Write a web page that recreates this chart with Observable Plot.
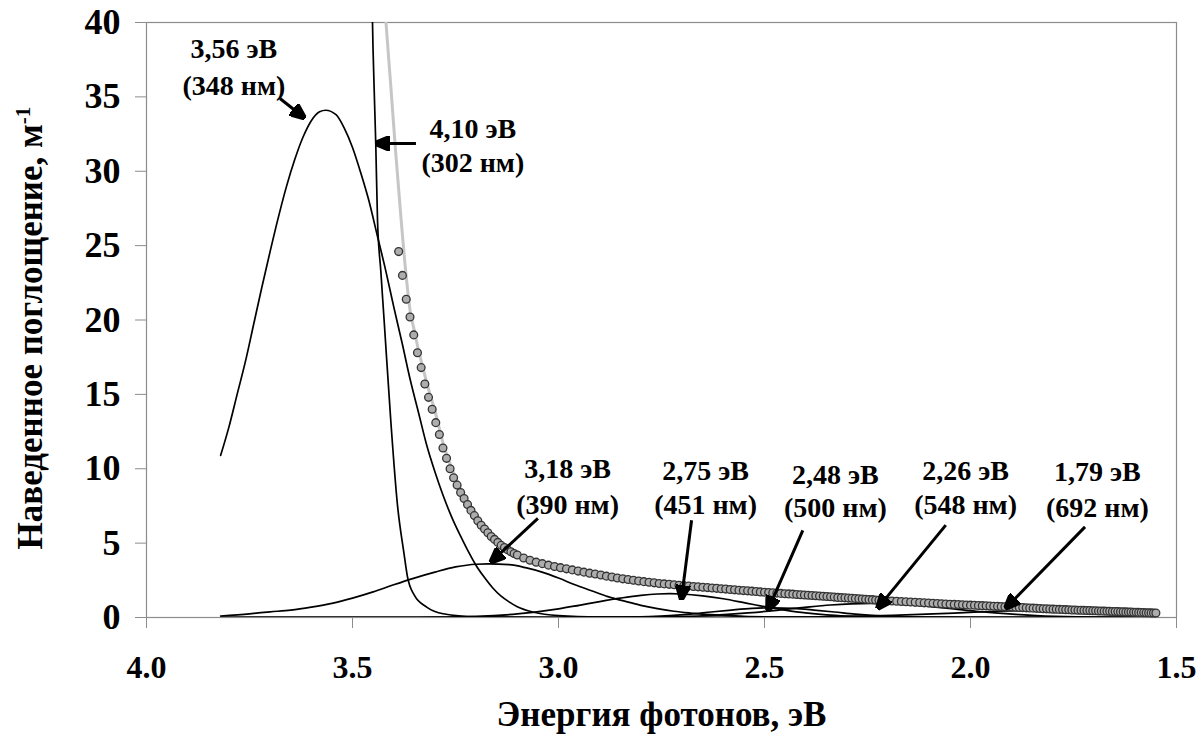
<!DOCTYPE html>
<html>
<head>
<meta charset="utf-8">
<script src="https://cdn.jsdelivr.net/npm/d3@7"></script>
<script src="https://cdn.jsdelivr.net/npm/@observablehq/plot@0.6"></script>
<style>
  html, body { margin: 0; padding: 0; background: #fff; }
  #chart svg text { font-family: "Liberation Serif", "Times New Roman", serif; font-weight: bold; }
  #chart g[aria-label="x-axis tick"], #chart g[aria-label="y-axis tick"] { stroke: #8c8c8c; }
</style>
</head>
<body>
<div id="chart"></div>
<script>
// ---------- Data ----------
const xTicks = [4.0, 3.5, 3.0, 2.5, 2.0, 1.5];
const yTicks = [0, 5, 10, 15, 20, 25, 30, 35, 40];

// measured spectrum: wavelength (nm) and induced absorption (m^-1)
const lambdaNm = [
  366,367,368,369,370,371,372,373,374,375,376,377,378,379,380,381,382,383,384,385,
  386,387,388,389,390,391,392,393,394,395,396,397,398,399,400,
  402,404,406,408,410,412,414,416,418,420,422,424,426,428,430,432,434,436,438,440,442,444,446,448,450,
  452,454,456,458,460,462,464,466,468,470,472,474,476,478,480,482,484,486,488,490,
  492,494,496,498,500,502,504,506,508,510,512,514,516,518,520,522,524,526,528,530,
  532,534,536,538,540,542,544,546,548,550,552,554,556,558,560,
  563,566,569,572,575,578,581,584,587,590,593,596,599,602,605,608,611,614,617,620,
  623,626,629,632,635,638,641,644,647,650,653,656,659,662,665,668,671,674,677,680,
  683,686,689,692,695,698,701,704,707,710,713,716,719,722,725,728,731,734,737,740,
  743,746,749,752,755,758,761,764,767,770,773,776,779,782,785,788,791,794,797,800
];
const absorb = [
  24.6,23.0,21.4,20.2,19.0,17.8,16.8,15.7,14.8,14.0,13.1,12.3,11.4,10.7,10.0,9.4,8.9,8.4,8.0,7.6,
  7.2,6.85,6.5,6.2,5.95,5.7,5.45,5.25,5.05,4.85,4.7,4.55,4.42,4.3,4.2,
  4.0,3.85,3.72,3.62,3.52,3.43,3.35,3.27,3.2,3.12,3.05,2.98,2.92,2.86,2.78,2.72,2.66,2.6,2.55,2.5,2.45,2.41,2.37,2.33,2.29,
  2.26,2.23,2.20,2.17,2.14,2.11,2.085,2.06,2.035,2.01,1.985,1.96,1.935,1.91,1.885,1.86,1.835,1.81,1.79,1.77,
  1.745,1.72,1.70,1.68,1.66,1.64,1.62,1.60,1.585,1.57,1.55,1.53,1.515,1.50,1.48,1.46,1.445,1.43,1.41,1.39,
  1.37,1.35,1.335,1.32,1.305,1.29,1.275,1.26,1.245,1.23,1.215,1.2,1.18,1.16,1.15,
  1.13,1.11,1.095,1.075,1.06,1.04,1.02,1.005,0.985,0.97,0.95,0.94,0.925,0.905,0.89,0.88,0.87,0.855,0.845,0.83,
  0.82,0.81,0.795,0.785,0.77,0.76,0.75,0.735,0.725,0.71,0.70,0.69,0.675,0.665,0.65,0.64,0.63,0.615,0.605,0.59,
  0.58,0.57,0.56,0.553,0.545,0.535,0.527,0.517,0.507,0.50,0.49,0.485,0.478,0.472,0.465,0.458,0.45,0.44,0.434,0.428,
  0.42,0.414,0.408,0.402,0.396,0.39,0.384,0.378,0.372,0.365,0.355,0.348,0.342,0.335,0.329,0.322,0.316,0.31,0.305,0.3
];

// total fit curve (gray)
const fitE = [3.425,3.419,3.407,3.395,3.383,3.371,3.36,3.35,3.34,3.33,3.32,3.30,3.28,3.26,3.24,3.22,3.20,3.17,3.14,3.10,3.05,2.98,2.90,2.82,2.74,2.60,2.50,2.35,2.22,2.10,2.02,1.90,1.80,1.70,1.62,1.555];
const fitY = [42.5,40.1,35.7,31.2,27.1,23.3,20.6,19.3,18.0,16.9,15.8,13.9,11.7,10.1,8.8,7.7,6.8,5.7,4.85,4.2,3.65,3.2,2.75,2.45,2.22,1.95,1.72,1.4,1.15,0.97,0.86,0.7,0.56,0.46,0.37,0.3];

// Gaussian components (black)
const comp410E = [3.453,3.4515,3.4476,3.4435,3.4393,3.4313,3.4233,3.407,3.391,3.375,3.367,3.35,3.32,3.28,3.2,3.0,2.5,1.555];
const comp410Y = [43,40.1,35.7,31.8,26.7,23.3,20.0,13.2,7.6,4.3,2.8,1.5,0.7,0.25,0.05,0.01,0,0];

const comp356E = [3.82,3.80,3.78,3.76,3.74,3.72,3.70,3.68,3.66,3.64,3.62,3.60,3.58,3.565,3.54,3.52,3.50,3.48,3.46,3.44,3.42,3.40,3.38,3.36,3.34,3.32,3.30,3.28,3.26,3.24,3.22,3.20,3.18,3.16,3.14,3.12,3.10,3.06,3.00,2.90,2.70,1.555];
const comp356Y = [10.9,12.8,15.0,17.2,19.7,22.2,24.6,26.9,29.0,30.8,32.3,33.4,34.0,34.1,33.8,32.9,31.6,29.9,28.0,25.7,23.4,20.9,18.5,16.0,13.8,11.6,9.8,8.2,6.8,5.6,4.5,3.5,2.7,2.0,1.45,1.05,0.72,0.35,0.12,0.02,0,0];

const comp318E = [3.82,3.75,3.70,3.65,3.60,3.55,3.50,3.45,3.40,3.35,3.30,3.25,3.20,3.17,3.12,3.08,3.04,3.00,2.96,2.92,2.88,2.84,2.80,2.76,2.72,2.68,2.62,2.55,2.45,2.30,1.555];
const comp318Y = [0.1,0.25,0.38,0.5,0.7,0.95,1.3,1.72,2.2,2.65,3.05,3.4,3.58,3.6,3.55,3.35,3.05,2.65,2.2,1.8,1.4,1.1,0.82,0.6,0.42,0.3,0.17,0.08,0.03,0.01,0];

const comp275E = [3.82,3.40,3.30,3.20,3.10,3.00,2.95,2.90,2.85,2.80,2.76,2.73,2.70,2.65,2.60,2.55,2.50,2.45,2.40,2.35,2.30,2.20,2.00,1.555];
const comp275Y = [0,0.01,0.02,0.07,0.24,0.58,0.82,1.07,1.3,1.49,1.58,1.6,1.58,1.46,1.26,1.0,0.73,0.5,0.31,0.18,0.1,0.03,0,0];

const comp248E = [3.82,2.98,2.88,2.78,2.73,2.68,2.63,2.58,2.53,2.48,2.43,2.38,2.33,2.28,2.23,2.18,2.08,1.98,1.555];
const comp248Y = [0,0,0.01,0.065,0.13,0.23,0.37,0.5,0.61,0.65,0.61,0.5,0.37,0.23,0.13,0.065,0.01,0,0];

const comp226E = [3.82,2.94,2.84,2.74,2.64,2.59,2.54,2.49,2.44,2.39,2.34,2.29,2.24,2.19,2.14,2.09,2.04,1.99,1.94,1.89,1.84,1.74,1.64,1.555];
const comp226Y = [0,0,0.01,0.04,0.13,0.21,0.31,0.43,0.58,0.72,0.84,0.92,0.95,0.92,0.84,0.72,0.58,0.43,0.31,0.21,0.13,0.04,0.01,0];

const comp179E = [3.82,2.60,2.49,2.39,2.29,2.19,2.09,2.04,1.99,1.94,1.89,1.84,1.79,1.74,1.69,1.64,1.59,1.555];
const comp179Y = [0,0,0.01,0.03,0.07,0.14,0.24,0.3,0.36,0.42,0.46,0.49,0.5,0.49,0.46,0.42,0.36,0.31];

// annotations (data coordinates)
const annLine1 = ["3,56 эВ","4,10 эВ","3,18 эВ","2,75 эВ","2,48 эВ","2,26 эВ","1,79 эВ"];
const annLine2 = ["(348 нм)","(302 нм)","(390 нм)","(451 нм)","(500 нм)","(548 нм)","(692 нм)"];
const annE  = [3.788,3.208,2.978,2.643,2.328,2.012,1.692];
const annY1 = [38.25,32.87,9.95,9.88,9.61,9.88,9.75];
const annY2 = [35.76,30.52,7.53,7.53,7.33,7.53,7.33];
const arrowE1 = [3.676,3.346,3.050,2.677,2.407,2.060,1.722];
const arrowY1 = [34.89,31.87,6.66,6.54,5.86,6.21,6.09];
const arrowE2 = [3.621,3.439,3.160,2.701,2.490,2.222,1.911];
const arrowY2 = [33.68,31.87,3.83,1.37,0.62,0.73,0.73];

const xTitle = "Энергия фотонов, эВ";
const yTitle = "Наведенное поглощение, м";
const yTitleSup = "-1";

// ---------- Build tables ----------
const components = [
  ["4,10", comp410E, comp410Y], ["3,56", comp356E, comp356Y], ["3,18", comp318E, comp318Y],
  ["2,75", comp275E, comp275Y], ["2,48", comp248E, comp248Y], ["2,26", comp226E, comp226Y],
  ["1,79", comp179E, comp179Y]
];
const compRows = components.flatMap(([name, E, Y]) => E.map((e, i) => ({series: name, e, y: Y[i]})));
const fitRows = fitE.map((e, i) => ({e, y: fitY[i]}));
const measRows = lambdaNm.map((l, i) => ({e: 1240 / l, y: absorb[i]}));
const annRows = annLine1.map((t, i) => ({
  t1: t, t2: annLine2[i], x: annE[i], y1: annY1[i], y2: annY2[i],
  ax1: arrowE1[i], ay1: arrowY1[i], ax2: arrowE2[i], ay2: arrowY2[i]
}));

const svgNS = "http://www.w3.org/2000/svg";
function filledHead(color, context) {
  const doc = (context && context.document) || document;
  const m = doc.createElementNS(svgNS, "marker");
  m.setAttribute("viewBox", "0 -5 10 10");
  m.setAttribute("refX", "8");
  m.setAttribute("refY", "0");
  m.setAttribute("markerUnits", "userSpaceOnUse");
  m.setAttribute("markerWidth", "15");
  m.setAttribute("markerHeight", "15");
  m.setAttribute("orient", "auto");
  const p = doc.createElementNS(svgNS, "path");
  p.setAttribute("d", "M0,-4.2L10,0L0,4.2Z");
  p.setAttribute("fill", "black");
  m.appendChild(p);
  return m;
}

function build(useCustomMarker) {
  const arrowMark = useCustomMarker
    ? Plot.link(annRows, {x1: "ax1", y1: "ay1", x2: "ax2", y2: "ay2", stroke: "black", strokeWidth: 3, markerEnd: filledHead})
    : Plot.arrow(annRows, {x1: "ax1", y1: "ay1", x2: "ax2", y2: "ay2", stroke: "black", strokeWidth: 3, headLength: 12, headAngle: 50});
  return Plot.plot({
    width: 1196,
    height: 739,
    marginLeft: 146,
    marginRight: 20,
    marginTop: 22,
    marginBottom: 122,
    style: {fontFamily: '"Liberation Serif", "Times New Roman", serif', fontSize: "36px", fontWeight: "bold", background: "white", color: "black", overflow: "visible"},
    x: {domain: [4.0, 1.5]},
    y: {domain: [0, 40]},
    marks: [
      Plot.frame({stroke: "#8c8c8c", strokeWidth: 1.2}),
      Plot.axisY({ticks: yTicks, tickSize: 11, tickPadding: 15, label: null, fontSize: 36}),
      Plot.axisX({ticks: xTicks, tickFormat: d => d.toFixed(1), tickSize: 11, tickPadding: 27, label: null, fontSize: 32}),
      Plot.line(compRows, {x: "e", y: "y", z: "series", stroke: "black", strokeWidth: 1.7, curve: "monotone-x", clip: true}),
      Plot.line(fitRows, {x: "e", y: "y", stroke: "#c6c6c6", strokeWidth: 3, curve: "monotone-x", clip: true}),
      Plot.dot(measRows, {x: "e", y: "y", r: 3.9, fill: "#adadad", stroke: "#333", strokeWidth: 1.3}),
      arrowMark,
      Plot.text(annRows, {x: "x", y: "y1", text: "t1", fontSize: 28, fontWeight: "bold", fill: "black"}),
      Plot.text(annRows, {x: "x", y: "y2", text: "t2", fontSize: 28, fontWeight: "bold", fill: "black"}),
      Plot.text([xTitle], {frameAnchor: "bottom", dy: 108, fontSize: 35, fontWeight: "bold", fill: "black"}),
      Plot.text([yTitle], {frameAnchor: "left", textAnchor: "middle", rotate: -90, dx: -116, dy: 8, fontSize: 35, fontWeight: "bold", fill: "black"})
    ]
  });
}

let chart;
try { chart = build(true); } catch (e) { chart = build(false); }
document.getElementById("chart").appendChild(chart);

// superscript on the y title unit
for (const t of chart.querySelectorAll("text")) {
  if (t.textContent === yTitle) {
    const ts = document.createElementNS(svgNS, "tspan");
    ts.setAttribute("dy", "-0.55em");
    ts.setAttribute("font-size", "21");
    ts.textContent = yTitleSup;
    t.appendChild(ts);
  }
}
</script>
</body>
</html>
